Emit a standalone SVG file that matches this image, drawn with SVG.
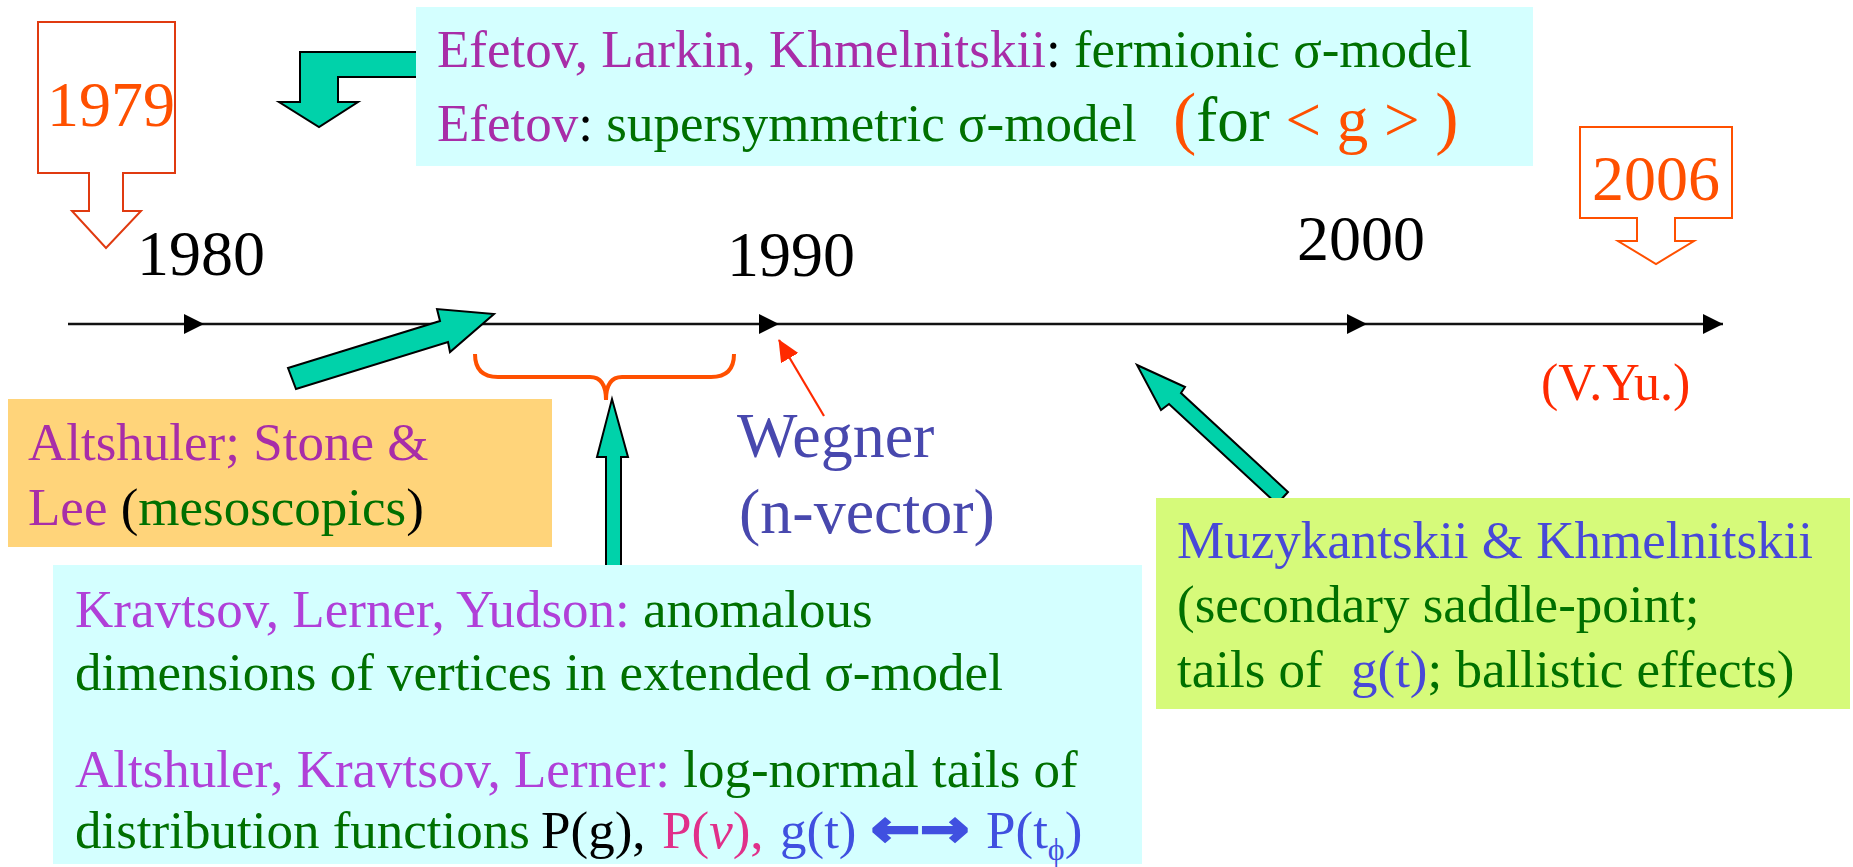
<svg xmlns="http://www.w3.org/2000/svg" width="1853" height="867" viewBox="0 0 1853 867">
<defs>
<style>
text{font-family:"Liberation Serif","Times New Roman",serif;}
.b{font-size:53px;}
.yr{font-size:64px;fill:#000;}
.mag{fill:#A82DA8;}
.vio{fill:#B040D8;}
.grn{fill:#007000;}
.blk{fill:#000;}
.org{fill:#FF5000;}
.blu{fill:#4848D8;}
.teal{fill:#00D2AA;stroke:#000;stroke-width:2;stroke-linejoin:miter;}
.tl{stroke:#111;stroke-width:2.5;fill:none;marker-end:url(#tri);}
</style>
<marker id="tri" markerUnits="userSpaceOnUse" markerWidth="20" markerHeight="20" refX="20" refY="10" orient="auto" viewBox="0 0 20 20"><path d="M0,0 L20,10 L0,20 z" fill="#000"/></marker>
<marker id="red" markerUnits="userSpaceOnUse" markerWidth="22" markerHeight="20" refX="21" refY="10" orient="auto" viewBox="0 0 22 20"><path d="M0,0 L22,10 L0,20 z" fill="#FF2A00"/></marker>
</defs>
<rect width="1853" height="867" fill="#fff"/>

<g id="connectors">
<line class="tl" x1="68" y1="324" x2="204" y2="324"/>
<line class="tl" x1="204" y1="324" x2="779" y2="324"/>
<line class="tl" x1="779" y1="324" x2="1367" y2="324"/>
<line class="tl" x1="1367" y1="324" x2="1723" y2="324"/>
<path class="teal" d="M440,52 L300,52 L300,102 L279,102 L319,127 L358,102 L338,102 L338,77 L440,77 Z"/>
<path class="teal" d="M288,368 L440,321 L437,309 L494,314 L450,352 L448,342 L296,389 Z"/>
<path class="teal" d="M606,580 L606,457 L597,457 L612,399 L628,457 L621,457 L621,580 Z"/>
<path class="teal" d="M1137,365 L1185,387 L1181,393 L1288,492 L1277,504 L1169,404 L1161,410 Z"/>
<path d="M475,354 Q475,377 498,377 L590,377 Q606,377 606,400 Q606,377 622,377 L711,377 Q734,377 734,354" fill="none" stroke="#FF5000" stroke-width="4"/>
<line x1="824" y1="416" x2="779" y2="340" stroke="#FF2A00" stroke-width="2.2" marker-end="url(#red)"/>
</g>

<g id="y1979">
<path d="M38,22 L175,22 L175,173 L123,173 L123,211 L141,211 L106,248 L72,211 L89,211 L89,173 L38,173 Z" fill="none" stroke="#E03A10" stroke-width="2"/>
<text x="47" y="126" class="yr" style="fill:#FF5000">1979</text>
</g>
<g id="y2006">
<path d="M1580,127 L1732,127 L1732,218 L1675,218 L1675,241 L1694,241 L1656,264 L1618,241 L1637,241 L1637,218 L1580,218 Z" fill="none" stroke="#FF5000" stroke-width="2"/>
<text x="1592" y="200" class="yr" style="fill:#FF5000">2006</text>
</g>
<g id="y1980"><text x="137" y="275" class="yr">1980</text></g>
<g id="y1990"><text x="727" y="276" class="yr">1990</text></g>
<g id="y2000"><text x="1297" y="260" class="yr">2000</text></g>
<g id="vyu"><text x="1541" y="400" style="font-size:52px;fill:#FF2A00">(V.Yu.)</text></g>

<g id="efetov">
<rect x="416" y="7" width="1117" height="159" fill="#D4FFFF"/>
<text x="437" y="67" class="b"><tspan class="mag">Efetov, Larkin, Khmelnitskii</tspan><tspan class="blk">:</tspan><tspan class="grn"> fermionic σ-model</tspan></text>
<text x="437" y="141" class="b"><tspan class="mag">Efetov</tspan><tspan class="blk">:</tspan><tspan class="grn"> supersymmetric σ-model</tspan></text>
<text x="1173" y="141" style="font-size:63px"><tspan class="org" style="font-size:70px">(</tspan><tspan class="grn">for</tspan><tspan class="org"> &lt; g &gt; </tspan><tspan class="org" style="font-size:70px">)</tspan></text>
</g>

<g id="altshuler">
<rect x="8" y="399" width="544" height="148" fill="#FFD47A"/>
<text x="28" y="460" class="b mag">Altshuler; Stone &amp;</text>
<text x="28" y="525" class="b"><tspan class="mag">Lee </tspan><tspan class="blk">(</tspan><tspan class="grn">mesoscopics</tspan><tspan class="blk">)</tspan></text>
</g>

<g id="wegner">
<text x="737" y="457" style="font-size:64px;fill:#4848AE">Wegner</text>
<text x="739" y="533" style="font-size:64px;fill:#4848AE">(n-vector)</text>
</g>

<g id="kravtsov">
<rect x="53" y="565" width="1089" height="299" fill="#D4FFFF"/>
<text x="75" y="627" class="b"><tspan class="vio">Kravtsov, Lerner, Yudson:</tspan><tspan class="grn"> anomalous</tspan></text>
<text x="75" y="690" class="b grn">dimensions of vertices in extended σ-model</text>
<text x="75" y="787" class="b"><tspan class="vio">Altshuler, Kravtsov, Lerner:</tspan><tspan class="grn"> log-normal tails of</tspan></text>
<text x="75" y="848" class="b"><tspan class="grn">distribution functions </tspan><tspan class="blk" x="541">P(g),</tspan><tspan x="662" style="fill:#E0308A">P(<tspan style="font-style:italic">v</tspan>),</tspan><tspan x="780" style="fill:#4050E0">g(t)</tspan></text>
<text x="871" y="846" textLength="98" lengthAdjust="spacingAndGlyphs" style="font-family:'DejaVu Sans',sans-serif;font-weight:bold;font-size:50px;fill:#4050E0;stroke:#4050E0;stroke-width:2.5">←→</text>
<text x="986" y="848" class="b" style="fill:#4050E0">P(t<tspan dy="12" style="font-size:32px">ϕ</tspan><tspan dy="-12">)</tspan></text>
</g>

<g id="muzykantskii">
<rect x="1156" y="498" width="694" height="211" fill="#D6FA7A"/>
<text x="1177" y="558" class="b blu">Muzykantskii &amp; Khmelnitskii</text>
<text x="1177" y="622" class="b grn">(secondary saddle-point;</text>
<text x="1177" y="687" class="b"><tspan class="grn">tails of </tspan><tspan x="1351" class="blu">g(t)</tspan><tspan class="grn">; ballistic effects)</tspan></text>
</g>
</svg>
